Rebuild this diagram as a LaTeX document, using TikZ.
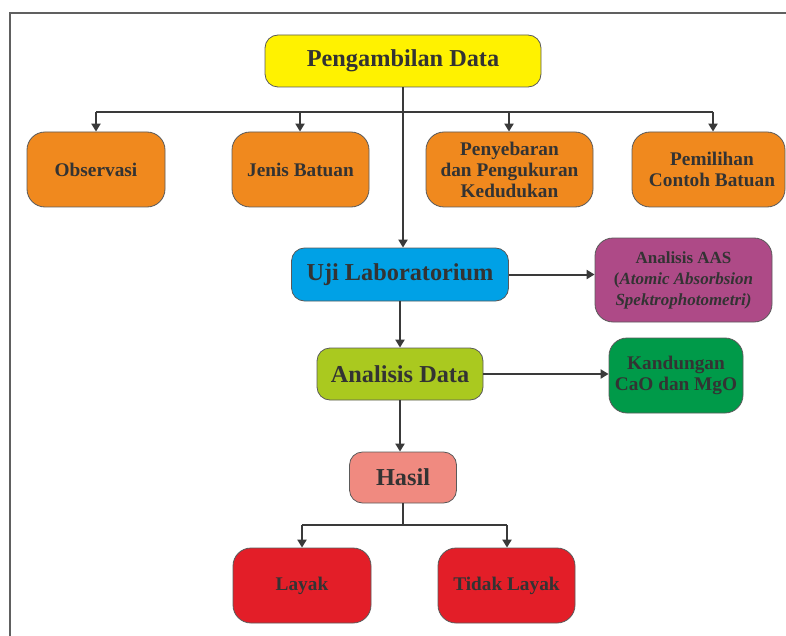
\documentclass[tikz,border=0pt]{standalone}
\usepackage{fontspec}
\setmainfont{Liberation Serif}
\usetikzlibrary{arrows.meta}
\definecolor{txt}{HTML}{333333}
\definecolor{lin}{HTML}{3A3A3A}
\definecolor{bord}{HTML}{5A5A5A}
\definecolor{cyel}{HTML}{FFF200}
\definecolor{corg}{HTML}{F0891E}
\definecolor{cblu}{HTML}{00A1E6}
\definecolor{cpur}{HTML}{AE4A87}
\definecolor{clim}{HTML}{AAC91F}
\definecolor{cgrn}{HTML}{009A49}
\definecolor{csal}{HTML}{F08A80}
\definecolor{cred}{HTML}{E31E28}
\tikzset{
  box/.style={draw=bord, line width=0.8pt, rounded corners=#1, inner sep=0pt,
    align=center, text=txt, font=\bfseries\fontsize{19.3}{21}\selectfont},
  box/.default=18pt,
  big/.style={font=\bfseries\fontsize{24.3}{26}\selectfont},
  ln/.style={draw=lin, line width=2pt},
  arr/.style={ln, -{Triangle[length=8pt,width=9pt]}, shorten >=0pt},
  frame/.style={draw=gray!75!black, line width=1.3pt}
}
\begin{document}
\begin{tikzpicture}[x=1pt,y=-1pt]
\useasboundingbox (0,0) rectangle (786,636);
\draw[frame] (786,13) -- (10,13) -- (10,636);

\node[box=13pt, big, fill=cyel, minimum width=276pt, minimum height=52pt] (pd) at (403,61) {Pengambilan Data};

\node[box, fill=corg, minimum width=138pt, minimum height=75pt] (obs) at (96,169.5) {Observasi};
\node[box, fill=corg, minimum width=137pt, minimum height=75pt] (jb) at (300.5,169.5) {Jenis Batuan};
\node[box, fill=corg, minimum width=167pt, minimum height=75pt] (pp) at (509.5,169.5) {Penyebaran\\dan Pengukuran\\Kedudukan};
\node[box, fill=corg, minimum width=153pt, minimum height=75pt] (pc) at (708.5,169.5) {};
\node[text=txt, font=\bfseries\fontsize{19.3}{21}\selectfont, align=center, inner sep=0pt] (pct) at (712,169.5) {Pemilihan\\Contoh Batuan};

\node[box=13pt, big, fill=cblu, minimum width=217pt, minimum height=53pt] (uji) at (400,274.5) {Uji Laboratorium};
\node[box, fill=cpur, minimum width=177pt, minimum height=84pt, font=\bfseries\fontsize{17}{21}\selectfont] (aas) at (683.5,280) {Analisis AAS\\(\textit{Atomic Absorbsion}\\\textit{Spektrophotometri)}};

\node[box=13pt, big, fill=clim, minimum width=166pt, minimum height=52pt] (ad) at (400,374) {Analisis Data};
\node[box, fill=cgrn, minimum width=134pt, minimum height=75pt] (kd) at (676,375.5) {Kandungan\\CaO dan MgO};

\node[box=13pt, big, fill=csal, minimum width=107pt, minimum height=51pt] (hs) at (403,477.5) {Hasil};

\node[box, fill=cred, minimum width=138pt, minimum height=75pt] (ly) at (302,585.5) {Layak};
\node[box, fill=cred, minimum width=137pt, minimum height=75pt] (tl) at (506.5,585.5) {Tidak Layak};

% top distribution
\coordinate (b1) at (96,112);
\coordinate (b2) at (300,112);
\coordinate (b3) at (509,112);
\coordinate (b4) at (713,112);
\draw[ln] (b1) -- (b4);
\draw[arr] (pd.south) -- (pd.south |- uji.north);
\draw[arr] (b1) -- (b1 |- obs.north);
\draw[arr] (b2) -- (b2 |- jb.north);
\draw[arr] (b3) -- (b3 |- pp.north);
\draw[arr] (b4) -- (b4 |- pc.north);

\draw[arr] (uji.east) -- (uji.east -| aas.west);
\draw[arr] (uji.south) -- (ad.north);
\draw[arr] (ad.east) -- (ad.east -| kd.west);
\draw[arr] (ad.south) -- (ad.south |- hs.north);

\coordinate (c1) at (302,525);
\coordinate (c2) at (507,525);
\draw[ln] (hs.south) -- (hs.south |- c1);
\draw[ln] (c1) -- (c2);
\draw[arr] (c1) -- (c1 |- ly.north);
\draw[arr] (c2) -- (c2 |- tl.north);
\end{tikzpicture}
\end{document}
